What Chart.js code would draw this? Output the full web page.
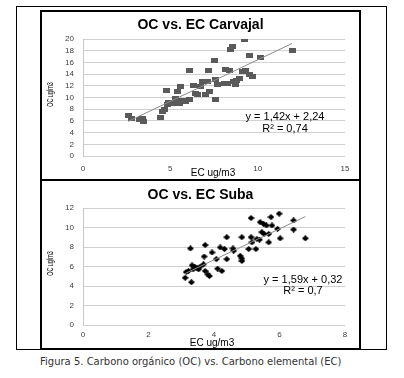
<!DOCTYPE html>
<html lang="es">
  <head>
    <meta charset="utf-8" />
    <title>OC vs. EC</title>
    <style>
      * {
        margin: 0;
        padding: 0;
        box-sizing: border-box;
      }
      body {
        width: 404px;
        height: 378px;
        background: #fff;
        position: relative;
        overflow: hidden;
      }
      .outer {
        position: absolute;
        left: 16px;
        top: 6px;
        width: 371px;
        height: 344px;
        border: 1px solid #000;
      }
      .box {
        position: absolute;
        left: 40px;
        width: 321px;
        height: 171px;
        border: 2px solid #000;
        background: #fff;
      }
      .box canvas {
        display: block;
      }
      .caption {
        position: absolute;
        left: 40px;
        top: 356px;
        font: 10px "DejaVu Sans", sans-serif;
        color: #333;
        white-space: nowrap;
      }
    </style>
  </head>
  <body>
    <div class="outer"></div>
    <div class="box" style="top: 10px"><canvas id="carvajal" width="317" height="167"></canvas></div>
    <div class="box" style="top: 179px"><canvas id="suba" width="317" height="167"></canvas></div>
    <div class="caption">Figura 5. Carbono orgánico (OC) vs. Carbono elemental (EC)</div>

    <script src="https://cdn.jsdelivr.net/npm/chart.js@4/dist/chart.umd.min.js"></script>

    <script>
      // data block
      const carvajalEC = [2.59, 2.78, 3.24, 3.39, 3.49, 4.44, 4.54, 4.67, 4.79, 4.83, 4.92, 5.11, 5.31, 5.4, 5.5, 5.59, 5.69, 5.88, 6.07, 6.11, 6.3, 6.46, 6.55, 6.7, 6.84, 6.99, 7.13, 7.18, 7.22, 7.51, 7.57, 7.57, 7.7, 8.08, 8.18, 8.28, 8.37, 8.47, 8.56, 8.62, 8.75, 8.81, 8.95, 9.14, 9.23, 9.33, 9.52, 9.52, 9.71, 10.19, 11.97];
      const carvajalOC = [6.84, 6.44, 6.27, 6.44, 5.98, 6.61, 7.58, 7.98, 11.28, 8.72, 9.12, 8.89, 9.86, 11.11, 9.0, 11.85, 9.57, 9.29, 9.69, 14.7, 11.97, 10.71, 10.43, 11.85, 12.71, 10.43, 12.71, 14.7, 11.0, 16.41, 13.16, 9.69, 12.14, 12.42, 14.81, 12.42, 14.59, 18.12, 18.8, 12.71, 12.14, 12.99, 13.28, 14.42, 19.83, 14.59, 17.26, 14.0, 13.56, 16.87, 17.95];
      const carvajalFit = [1.42, 2.24]; // slope, intercept

      const subaEC = [3.12, 3.15, 3.22, 3.28, 3.31, 3.33, 3.36, 3.4, 3.48, 3.53, 3.58, 3.68, 3.7, 3.73, 3.73, 3.81, 3.86, 3.94, 4.07, 4.11, 4.19, 4.24, 4.32, 4.39, 4.39, 4.58, 4.6, 4.8, 4.85, 4.85, 4.85, 5.06, 5.13, 5.13, 5.16, 5.28, 5.31, 5.39, 5.41, 5.46, 5.51, 5.53, 5.6, 5.67, 5.67, 5.74, 5.77, 5.94, 5.99, 6.02, 6.43, 6.43, 6.79];
      const subaOC = [4.84, 5.43, 5.54, 7.85, 4.39, 6.12, 5.71, 5.99, 5.88, 5.71, 5.99, 6.23, 7.02, 8.2, 5.54, 5.19, 5.02, 7.44, 6.75, 5.78, 7.96, 5.54, 7.79, 9.0, 6.75, 7.85, 7.61, 7.09, 6.82, 6.57, 9.0, 7.79, 10.97, 9.0, 8.48, 7.79, 8.82, 8.75, 10.55, 9.52, 10.38, 9.34, 10.21, 8.48, 9.34, 11.07, 10.21, 9.86, 11.42, 8.89, 10.73, 9.79, 8.89];
      const subaFit = [1.59, 0.32];

      // marker images
      function marker(w, h, color, diamond) {
        const c = document.createElement("canvas");
        c.width = w;
        c.height = h;
        const g = c.getContext("2d");
        g.fillStyle = color;
        if (diamond) {
          g.beginPath();
          g.moveTo(w / 2, 0);
          g.lineTo(w, h / 2);
          g.lineTo(w / 2, h);
          g.lineTo(0, h / 2);
          g.closePath();
          g.fill();
        } else {
          g.fillRect(0, 0, w, h);
        }
        return c;
      }

      function points(xs, ys) {
        return xs.map((x, i) => ({ x: x, y: ys[i] }));
      }

      function fitLine(xs, fit) {
        const lo = Math.min(...xs);
        const hi = Math.max(...xs);
        return [
          { x: lo, y: fit[0] * lo + fit[1] },
          { x: hi, y: fit[0] * hi + fit[1] },
        ];
      }

      // texts block: title, axis titles, equation
      const chartTexts = {
        id: "chartTexts",
        afterDraw(chart, args, o) {
          const { ctx, chartArea } = chart;
          ctx.save();
          ctx.fillStyle = "#000";
          ctx.textAlign = "center";
          ctx.textBaseline = "middle";

          ctx.font = 'bold 14px "Liberation Sans", Arial, sans-serif';
          ctx.fillText(o.title, chart.width / 2, o.titleY);

          ctx.font = '10px "Liberation Sans", Arial, sans-serif';
          ctx.fillText("EC ug/m3", o.xTitleX, o.xTitleY);

          ctx.save();
          ctx.translate(9, (chartArea.top + chartArea.bottom) / 2 - 3);
          ctx.rotate(-Math.PI / 2);
          ctx.scale(0.6, 1);
          ctx.font = '9px "Liberation Sans", Arial, sans-serif';
          ctx.fillText("OC ug/m3", 0, 0);
          ctx.restore();

          ctx.font = '11px "Liberation Sans", Arial, sans-serif';
          o.eq.forEach((line, i) => {
            ctx.fillText(line, o.eqX, o.eqY + i * o.eqGap);
          });
          ctx.restore();
        },
      };

      function makeConfig(xs, ys, fit, marks, xMax, xStep, yMax, texts, xPad) {
        return {
          type: "scatter",
          data: {
            datasets: [
              {
                data: points(xs, ys),
                pointStyle: marks,
                pointRadius: 4,
                order: 2,
              },
              {
                data: fitLine(xs, fit),
                showLine: true,
                borderColor: "#8c8c8c",
                borderWidth: 1,
                pointRadius: 0,
                order: 1,
              },
            ],
          },
          options: {
            responsive: false,
            animation: false,
            events: [],
            layout: { padding: { top: 27, right: 14, left: 0, bottom: 0 } },
            plugins: {
              legend: { display: false },
              tooltip: { enabled: false },
              chartTexts: texts,
            },
            scales: {
              x: {
                type: "linear",
                min: 0,
                max: xMax,
                afterFit: (s) => {
                  s.height = 23;
                },
                grid: { display: false, drawTicks: false },
                border: { display: false },
                ticks: {
                  stepSize: xStep,
                  padding: xPad,
                  autoSkip: false,
                  maxRotation: 0,
                  color: "#404040",
                  font: { size: 8, family: '"Liberation Sans", Arial' },
                },
              },
              y: {
                min: 0,
                max: yMax,
                afterFit: (s) => {
                  s.width = 41;
                },
                grid: { color: "#d0d0d0", drawTicks: false },
                border: { display: true, color: "#c8c8c8" },
                ticks: {
                  stepSize: 2,
                  padding: 9,
                  autoSkip: false,
                  color: "#404040",
                  font: { size: 8, family: '"Liberation Sans", Arial' },
                },
              },
            },
          },
          plugins: [chartTexts],
        };
      }

      // init render block
      new Chart(
        document.getElementById("carvajal"),
        makeConfig(carvajalEC, carvajalOC, carvajalFit, marker(7, 5, "#5a5a5a", false), 15, 5, 20, {
          title: "OC vs. EC Carvajal",
          titleY: 13,
          xTitleX: 171,
          xTitleY: 161,
          eq: ["y = 1,42x + 2,24", "R\u00b2 = 0,74"],
          eqX: 243,
          eqY: 105,
          eqGap: 12,
        }, 8)
      );

      new Chart(
        document.getElementById("suba"),
        makeConfig(subaEC, subaOC, subaFit, marker(7, 6, "#000", true), 8, 2, 12, {
          title: "OC vs. EC Suba",
          titleY: 14,
          xTitleX: 170,
          xTitleY: 162,
          eq: ["y = 1,59x + 0,32", "R\u00b2 = 0,7"],
          eqX: 261,
          eqY: 99,
          eqGap: 11,
        }, 5)
      );
    </script>
  </body>
</html>
